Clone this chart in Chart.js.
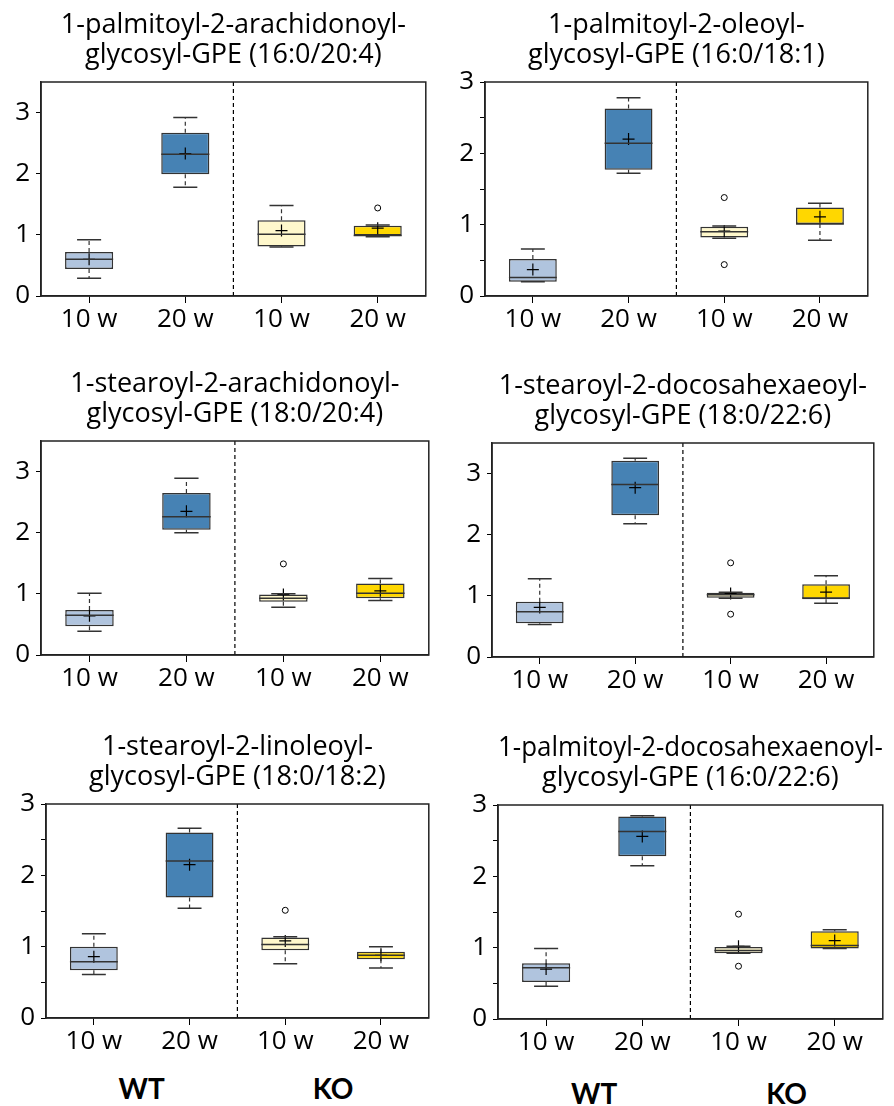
<!DOCTYPE html>
<html>
<head>
<meta charset="utf-8">
<script src="https://cdn.jsdelivr.net/npm/chart.js@4"></script>
<style>
  body { margin: 0; background: #fff; }
  #page { position: relative; width: 894px; height: 1106px; background: #fff; overflow: hidden; }
  #page canvas { position: absolute; }
  .grp { position: absolute; font-family: Lato, sans-serif; font-weight: bold; font-size: 28px; color: #000; transform: translateX(-50%); }
</style>
</head>
<body>
<div id="page"></div>
<script>
// ---- data ----
const categories = ['10 w', '20 w', '10 w', '20 w'];
const groupNames = ['WT', 'KO'];
const colors = ['#b0c4de', '#4682b4', '#fff8cc', '#ffd700'];

const titles = [
    ['1-palmitoyl-2-arachidonoyl-', 'glycosyl-GPE (16:0/20:4)'],
    ['1-palmitoyl-2-oleoyl-', 'glycosyl-GPE (16:0/18:1)'],
    ['1-stearoyl-2-arachidonoyl-', 'glycosyl-GPE (18:0/20:4)'],
    ['1-stearoyl-2-docosahexaeoyl-', 'glycosyl-GPE (18:0/22:6)'],
    ['1-stearoyl-2-linoleoyl-', 'glycosyl-GPE (18:0/18:2)'],
    ['1-palmitoyl-2-docosahexaenoyl-', 'glycosyl-GPE (16:0/22:6)'],
];
const yMax = [3.5, 3, 3.5, 3.5, 3, 3];

const whiskerLow = [
    [0.29, 1.78, 0.80, 0.97],
    [0.20, 1.72, 0.81, 0.78],
    [0.39, 2.00, 0.78, 0.89],
    [0.53, 2.18, 0.96, 0.88],
    [0.61, 1.54, 0.76, 0.70],
    [0.46, 2.15, 0.92, 0.99],
];
const q1 = [
    [0.44, 1.99, 0.81, 0.99],
    [0.20, 1.77, 0.82, 1.01],
    [0.47, 2.05, 0.87, 0.93],
    [0.55, 2.32, 0.97, 0.945],
    [0.67, 1.69, 0.95, 0.825],
    [0.52, 2.28, 0.92, 0.99],
];
const median = [
    [0.60, 2.32, 1.01, 0.99],
    [0.26, 2.14, 0.90, 1.01],
    [0.65, 2.26, 0.93, 1.01],
    [0.74, 2.82, 1.02, 0.965],
    [0.79, 2.20, 1.03, 0.88],
    [0.72, 2.63, 0.96, 1.03],
];
const q3 = [
    [0.72, 2.67, 1.24, 1.15],
    [0.52, 2.63, 0.97, 1.24],
    [0.735, 2.65, 0.99, 1.17],
    [0.905, 3.21, 1.05, 1.19],
    [1.00, 2.60, 1.13, 0.93],
    [0.78, 2.84, 1.01, 1.23],
];
const whiskerHigh = [
    [0.92, 2.92, 1.48, 1.16],
    [0.66, 2.78, 0.98, 1.30],
    [1.01, 2.89, 1.00, 1.25],
    [1.28, 3.25, 1.06, 1.33],
    [1.18, 2.66, 1.14, 1.00],
    [0.99, 2.85, 1.02, 1.25],
];
const means = [
    [0.60, 2.33, 1.07, 1.11],
    [0.37, 2.20, 0.91, 1.11],
    [0.64, 2.35, 0.99, 1.05],
    [0.81, 2.77, 1.04, 1.06],
    [0.86, 2.15, 1.08, 0.88],
    [0.70, 2.56, 1.02, 1.10],
];
const outliers = [
    [[], [], [], [1.44]],
    [[], [], [1.38, 0.44], []],
    [[], [], [1.49], []],
    [[], [], [1.54, 0.70], []],
    [[], [], [1.51], []],
    [[], [], [1.47, 0.74], []],
];

// ---- layout (plot area of each panel) ----
const panels = [
    { left: 41, top: 82, w: 390 },
    { left: 485, top: 82, w: 388 },
    { left: 41, top: 441, w: 393 },
    { left: 492, top: 443, w: 387 },
    { left: 46, top: 804, w: 388 },
    { left: 498, top: 805, w: 390 },
];
const PLOT_H = 214, Y_AXIS_W = 40, X_AXIS_H = 45, TITLE_H = 82;
const FONT = '"Open Sans", Lato, sans-serif';

// whiskers, caps, medians, divider and frame
const boxPlugin = {
    id: 'boxWhiskers',
    afterDatasetsDraw(chart, args, opts) {
        const p = opts.panel;
        const { ctx, chartArea, scales: { x, y } } = chart;
        const meta = chart.getDatasetMeta(0);
        ctx.save();

        // dashed divider between WT and KO
        const xd = (x.getPixelForValue(1) + x.getPixelForValue(2)) / 2;
        ctx.strokeStyle = '#000';
        ctx.lineWidth = 1.2;
        ctx.setLineDash([4, 3]);
        ctx.beginPath();
        ctx.moveTo(xd, chartArea.top);
        ctx.lineTo(xd, chartArea.bottom);
        ctx.stroke();

        meta.data.forEach((bar, i) => {
            const cx = bar.x, half = bar.width / 2, cap = half / 2;
            ctx.strokeStyle = '#333';
            ctx.lineWidth = 1.2;
            ctx.setLineDash([4, 3]);
            ctx.beginPath();
            ctx.moveTo(cx, y.getPixelForValue(q3[p][i]));
            ctx.lineTo(cx, y.getPixelForValue(whiskerHigh[p][i]));
            ctx.moveTo(cx, y.getPixelForValue(q1[p][i]));
            ctx.lineTo(cx, y.getPixelForValue(whiskerLow[p][i]));
            ctx.stroke();
            ctx.setLineDash([]);
            ctx.lineWidth = 1.5;
            ctx.beginPath();
            const yh = y.getPixelForValue(whiskerHigh[p][i]);
            const yl = y.getPixelForValue(whiskerLow[p][i]);
            ctx.moveTo(cx - cap, yh); ctx.lineTo(cx + cap, yh);
            ctx.moveTo(cx - cap, yl); ctx.lineTo(cx + cap, yl);
            const ym = y.getPixelForValue(median[p][i]);
            ctx.moveTo(cx - half, ym); ctx.lineTo(cx + half, ym);
            ctx.stroke();
        });

        // frame
        ctx.setLineDash([]);
        ctx.strokeStyle = '#222';
        ctx.lineWidth = 1.5;
        ctx.strokeRect(chartArea.left, chartArea.top, chartArea.right - chartArea.left, chartArea.bottom - chartArea.top);
        ctx.restore();
    }
};

const page = document.getElementById('page');

panels.forEach((pan, p) => {
    const canvas = document.createElement('canvas');
    const cw = Y_AXIS_W + pan.w + 2;
    const ch = TITLE_H + PLOT_H + X_AXIS_H;
    canvas.width = cw;
    canvas.height = ch;
    canvas.style.left = (pan.left - Y_AXIS_W) + 'px';
    canvas.style.top = (pan.top - TITLE_H) + 'px';
    canvas.style.width = cw + 'px';
    canvas.style.height = ch + 'px';
    page.appendChild(canvas);

    // one point dataset per outlier rank, indexed by category
    const maxOut = Math.max(...outliers[p].map(l => l.length));
    const outlierSets = [];
    for (let k = 0; k < maxOut; k++) {
        outlierSets.push({
            type: 'line',
            showLine: false,
            data: outliers[p].map(l => l[k] !== undefined ? l[k] : null),
            pointStyle: 'circle',
            radius: 3,
            backgroundColor: 'rgba(0,0,0,0)',
            borderColor: '#000',
            borderWidth: 1,
            order: 1,
        });
    }

    const chart = new Chart(canvas, {
        type: 'bar',
        data: {
            labels: categories,
            datasets: [{
                type: 'bar',
                data: categories.map((c, i) => [q1[p][i], q3[p][i]]),
                backgroundColor: colors,
                borderColor: '#333',
                borderWidth: 1.5,
                borderSkipped: false,
                barPercentage: 0.5,
                categoryPercentage: 1,
                order: 2,
            }, {
                type: 'line',
                showLine: false,
                data: means[p],
                pointStyle: 'cross',
                radius: 6,
                borderColor: '#000',
                borderWidth: 1.2,
                order: 1,
            }, ...outlierSets]
        },
        options: {
            responsive: false,
            animation: false,
            devicePixelRatio: 1,
            layout: { padding: { left: 0, right: 2, top: 0, bottom: 0 } },
            plugins: {
                legend: { display: false },
                tooltip: { enabled: false },
                title: {
                    display: true,
                    text: titles[p],
                    fullSize: false,
                    color: '#000',
                    font: { family: FONT, size: 27, weight: 'normal', lineHeight: '30px' },
                    padding: { top: 10, bottom: 12 },
                },
                boxWhiskers: { panel: p },
            },
            scales: {
                x: {
                    type: 'category',
                    offset: true,
                    grid: { offset: false, drawOnChartArea: false, drawTicks: true, tickLength: 7, color: '#000' },
                    border: { display: true, color: '#222', width: 1.5 },
                    ticks: { color: '#000', font: { family: FONT, size: 26 }, padding: 1, maxRotation: 0 },
                    afterFit: s => { s.height = X_AXIS_H; },
                },
                y: {
                    min: 0,
                    max: yMax[p],
                    grid: { drawOnChartArea: false, drawTicks: true, tickLength: 5, color: '#000' },
                    border: { display: true, color: '#222', width: 1.5 },
                    ticks: {
                        stepSize: 0.5,
                        color: '#000',
                        padding: 6,
                        font: { family: FONT, size: 26 },
                        callback: v => Number.isInteger(v) ? v : '',
                    },
                    afterFit: s => { s.width = Y_AXIS_W; },
                }
            }
        },
        plugins: [boxPlugin]
    });

    // WT / KO group labels under the bottom row
    if (p >= 4) {
        const x = chart.scales.x;
        [[0, 1], [2, 3]].forEach((pair, g) => {
            const d = document.createElement('div');
            d.className = 'grp';
            d.textContent = groupNames[g];
            const mid = (x.getPixelForValue(pair[0]) + x.getPixelForValue(pair[1])) / 2;
            d.style.left = (pan.left - Y_AXIS_W + mid) + 'px';
            d.style.top = (p === 4 ? 1071 : 1076) + 'px';
            page.appendChild(d);
        });
    }
});
</script>
</body>
</html>
